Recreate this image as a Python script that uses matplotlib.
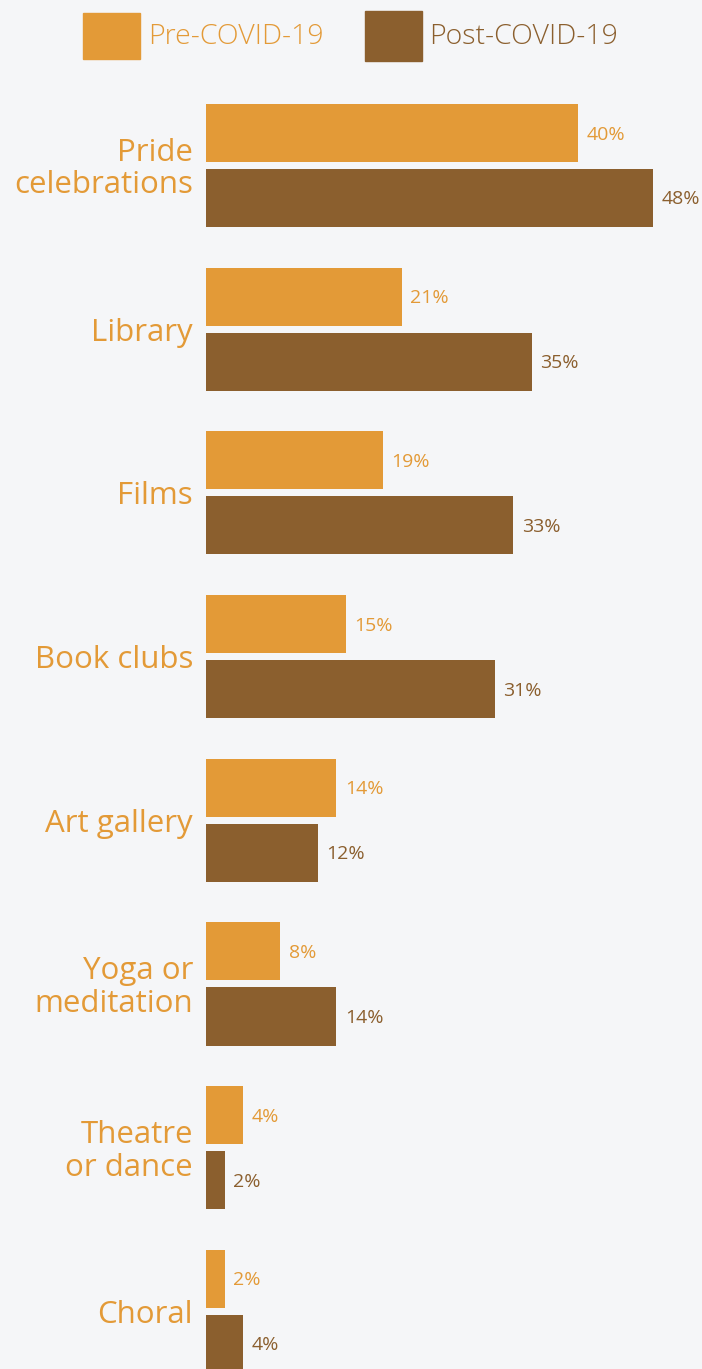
import matplotlib.pyplot as plt

# Activity participation before and after COVID-19 (percent)
categories = ["Pride\ncelebrations", "Library", "Films", "Book clubs", "Art gallery",
              "Yoga or\nmeditation", "Theatre\nor dance", "Choral"]
pre_covid = [40, 21, 19, 15, 14, 8, 4, 2]
post_covid = [48, 35, 33, 31, 12, 14, 2, 4]
series_names = ["Pre-COVID-19", "Post-COVID-19"]

PRE = "#E39A37"
POST = "#8B5F2E"
BG = "#F5F6F8"

plt.rcParams['font.family'] = ['Open Sans', 'DejaVu Sans']

W, H = 702, 1369
fig = plt.figure(figsize=(W / 100, H / 100), dpi=100)
fig.patch.set_facecolor(BG)

# axes start at the bars' left edge and run to the right border
ax = fig.add_axes([206 / W, 0, 1 - 206 / W, 1])
ax.set_facecolor(BG)

step = 163.7
top = 165.5
ax.set_ylim((H - top) / step, -top / step)
ax.set_xlim(0, 496 / 9.31)

bh = 58 / step
off = 32.5 / step
ys = list(range(len(categories)))
ax.barh([y - off for y in ys], pre_covid, height=bh, color=PRE)
ax.barh([y + off for y in ys], post_covid, height=bh, color=POST)

for y, v in zip(ys, pre_covid):
    ax.text(v + 0.9, y - off + 1.5 / step, f"{v}%", color=PRE, fontsize=14,
            va="center", ha="left")
for y, v in zip(ys, post_covid):
    ax.text(v + 0.9, y + off + 1.5 / step, f"{v}%", color=POST, fontsize=14,
            va="center", ha="left")

for y, c in zip(ys, categories):
    ax.text(-1.4, y + 3.5 / step, c, color=PRE, fontsize=22.5, va="center",
            ha="right", linespacing=1.12)

ax.axis("off")

# legend squares and labels across the top
fig.patches.append(plt.Rectangle((83 / W, 1 - 59 / H), 57 / W, 46 / H,
                                 transform=fig.transFigure, color=PRE))
fig.patches.append(plt.Rectangle((365 / W, 1 - 61 / H), 57 / W, 50 / H,
                                 transform=fig.transFigure, color=POST))
fig.text(148 / W, 1 - 37 / H, series_names[0], color=PRE, fontsize=20.5,
         va="center", ha="left", fontweight="light")
fig.text(429 / W, 1 - 37 / H, series_names[1], color=POST, fontsize=20.5,
         va="center", ha="left", fontweight="light")

fig.savefig("out.png", dpi=100, facecolor=BG)
